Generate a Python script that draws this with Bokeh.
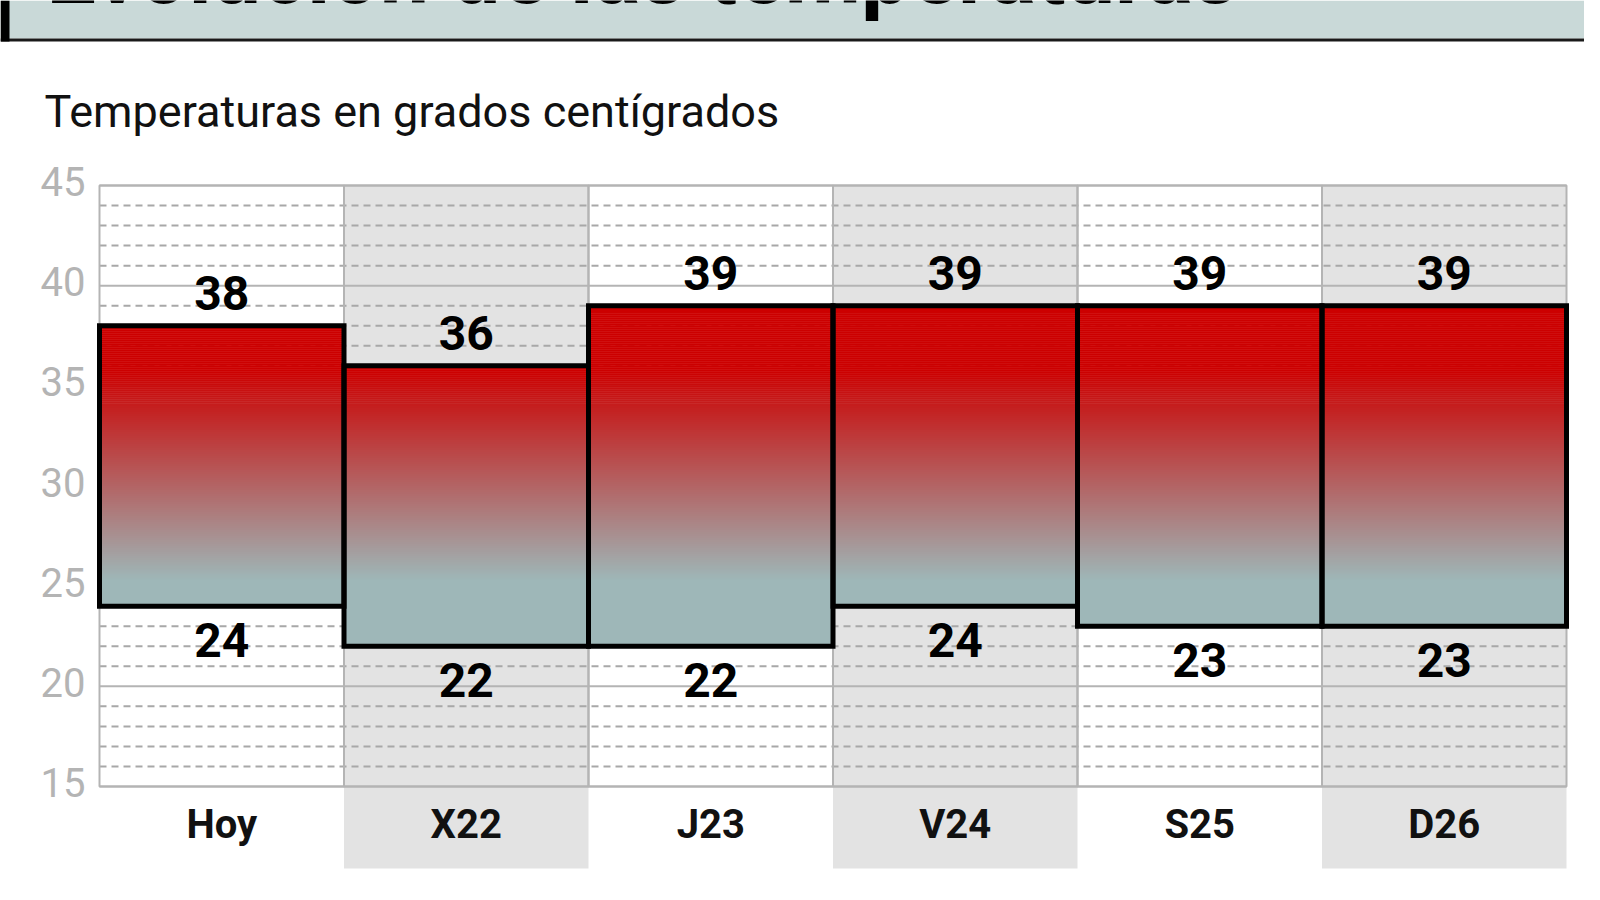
from bokeh.plotting import figure
from bokeh.models import Range1d
from bokeh.core.properties import value
from bokeh.embed import file_html
from bokeh.resources import INLINE

# data
days = ["Hoy", "X22", "J23", "V24", "S25", "D26"]
t_max = [38, 36, 39, 39, 39, 39]
t_min = [24, 22, 22, 24, 23, 23]
y_ticks = [15, 20, 25, 30, 35, 40, 45]
title_text = "Evolución de las temperaturas"
subtitle_text = "Temperaturas en grados centígrados"

# styling
W, H = 1584, 884
COL_PX = 244.5           # width of one day column in pixels
PX_PER_DEG = 20.03
LEFT_PX, RIGHT_PX = 99, 18
TOP_PX, BOTTOM_PX = 185, 786   # where 45 and 15 sit on the canvas
Y_MIN, Y_MAX = 15, 45
GREY_BOTTOM = 10.9
RED = (204, 0, 0)
TEAL = (158, 183, 184)
GRAD_TOP, GRAD_BOTTOM = 35.7, 25.3
FONT = value("Roboto")


def grad_color(v):
    t = (v - GRAD_BOTTOM) / (GRAD_TOP - GRAD_BOTTOM)
    t = min(1.0, max(0.0, t))
    r, g, b = [int(round(a + t * (c - a))) for a, c in zip(TEAL, RED)]
    return "#%02x%02x%02x" % (r, g, b)


idx = list(range(len(days)))
x_lo = -0.5 - LEFT_PX / COL_PX
x_hi = len(days) - 0.5 + RIGHT_PX / COL_PX
y_hi = Y_MAX + TOP_PX / PX_PER_DEG
y_lo = Y_MIN - (H - BOTTOM_PX) / PX_PER_DEG

p = figure(width=W, height=H, x_range=Range1d(x_lo, x_hi), y_range=Range1d(y_lo, y_hi),
           x_axis_location=None, y_axis_location=None, toolbar_location=None,
           output_backend="svg", min_border=0, outline_line_color=None)
p.extra_x_ranges = {"px": Range1d(0, W)}
p.extra_y_ranges = {"px": Range1d(H, 0)}
p.grid.visible = False

#---------------------------------------#
# header
#---------------------------------------#
p.quad(left=0, right=W, top=0, bottom=38, fill_color="#c9d9d8", line_color=None,
       x_range_name="px", y_range_name="px")
p.segment(x0=0, y0=39.5, x1=W, y1=39.5, line_color="#1a1a1a", line_width=3,
          x_range_name="px", y_range_name="px")
p.quad(left=0, right=9, top=0, bottom=41, fill_color="black", line_color=None,
       x_range_name="px", y_range_name="px")
# the title is cut by the top edge, as in the original page
p.text(x=[46], y=[-28], text=[title_text], text_font=FONT, text_font_style="bold",
       text_font_size="88px", text_baseline="alphabetic", text_color="black",
       x_range_name="px", y_range_name="px")
p.text(x=[44], y=[111], text=[subtitle_text], text_font=FONT,
       text_font_size="45px", text_baseline="middle", text_color="#111111",
       x_range_name="px", y_range_name="px")

#---------------------------------------#
# chart
#---------------------------------------#
left_edge = [-0.5] * len(y_ticks)
right_edge = [len(days) - 0.5] * len(y_ticks)
minor = [v for v in range(Y_MIN, Y_MAX + 1) if v not in y_ticks]

# alternating grey columns, reaching under the day labels
p.vbar(x=idx[1::2], top=Y_MAX, bottom=GREY_BOTTOM, width=1, fill_color="#e3e3e3",
       line_color=None)

# grid
p.segment(x0=[-0.5] * len(minor), x1=[len(days) - 0.5] * len(minor), y0=minor, y1=minor,
          line_color="#a8a8a8", line_width=2, line_dash="7 5")
p.segment(x0=left_edge, x1=right_edge, y0=y_ticks, y1=y_ticks,
          line_color="#b4b4b4", line_width=2)
p.vbar(x=idx, top=Y_MAX, bottom=Y_MIN, width=1, fill_color=None,
       line_color="#b4b4b4", line_width=2)

# y tick labels
p.text(x=left_edge, y=y_ticks, text=[str(v) for v in y_ticks], x_offset=-14, y_offset=-4,
       text_align="right", text_baseline="middle", text_font=FONT,
       text_font_size="40px", text_color="#b4b4b4")

# gradient fill of each bar, built from thin strips
sx, stop, sbot, scol = [], [], [], []
step = 0.1
for i, lo, hi in zip(idx, t_min, t_max):
    lvl = lo
    while lvl < hi - 1e-9:
        sx.append(i)
        sbot.append(lvl)
        stop.append(min(hi, lvl + step + 0.03))
        scol.append(grad_color(lvl + step / 2))
        lvl += step
p.vbar(x=sx, top=stop, bottom=sbot, width=1, fill_color=scol, line_color=None)

# bar outlines
p.vbar(x=idx, top=t_max, bottom=t_min, width=1, fill_color=None,
       line_color="black", line_width=5, line_join="miter")

# value labels
p.text(x=idx, y=t_max, text=[str(v) for v in t_max], y_offset=-33,
       text_align="center", text_baseline="middle", text_font=FONT,
       text_font_style="bold", text_font_size="48px", text_color="black")
p.text(x=idx, y=t_min, text=[str(v) for v in t_min], y_offset=34,
       text_align="center", text_baseline="middle", text_font=FONT,
       text_font_style="bold", text_font_size="48px", text_color="black")

# day labels
p.text(x=idx, y=[Y_MIN] * len(days), text=days, y_offset=38,
       text_align="center", text_baseline="middle", text_font=FONT,
       text_font_style="bold", text_font_size="40px", text_color="#111111")

open("out.html", "w").write(file_html(p, INLINE))
